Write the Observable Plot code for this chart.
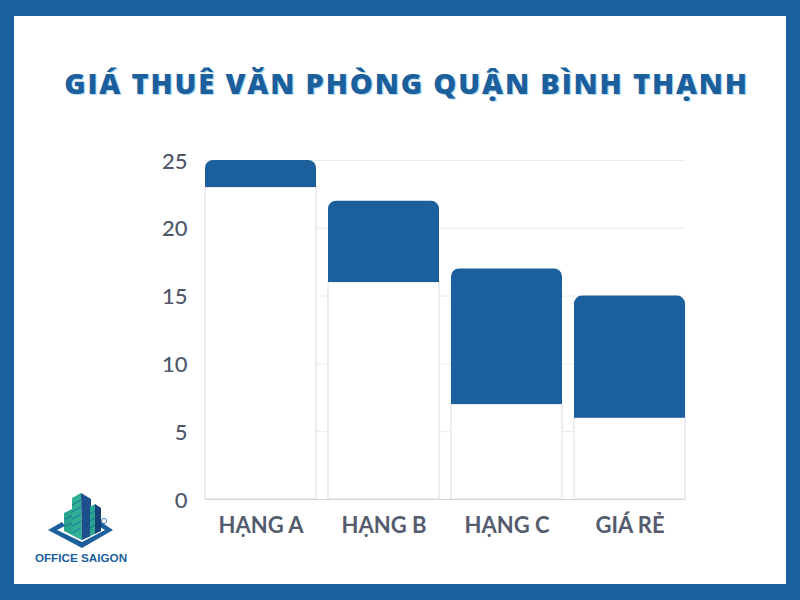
<!DOCTYPE html>
<html>
<head>
<meta charset="utf-8">
<script src="https://cdn.jsdelivr.net/npm/d3@7"></script>
<script src="https://cdn.jsdelivr.net/npm/@observablehq/plot@0.6"></script>
<style>
html,body{margin:0;padding:0;width:800px;height:600px;overflow:hidden;background:#1c5f9d}
#panel{position:absolute;left:14px;top:16px;width:772px;height:568px;background:#fff}
#title{position:absolute;left:0;top:63px;width:813px;text-align:center;font:800 29px "Open Sans",sans-serif;letter-spacing:1.82px;color:#1c5f9d;text-shadow:1.2px 1.2px 0 #b7dcef;white-space:nowrap}
#chart{position:absolute;left:0;top:0}
#chart svg{background:transparent}
#logo{position:absolute;left:0;top:470px}
</style>
</head>
<body>
<div id="panel"></div>
<div id="title">GIÁ THUÊ VĂN PHÒNG QUẬN BÌNH THẠNH</div>
<div id="chart"></div>
<svg id="logo" width="200" height="110" viewBox="0 470 200 110">
  <path d="M48 530 L62 522 L65 526 L57 530 L82 542 L105 530 L98 526 L101 522 L113 530 L82 548 Z" fill="#1c5f9d"/>
  <path d="M64 513 L72 509 L82 540 L64 531 Z" fill="#2aa58f"/>
  <path d="M72 498 L81 493 L82 540 L72 535 Z" fill="#2fb095"/>
  <path d="M81 493 L91 499 L91 536 L82 540 Z" fill="#1c4f8c"/>
  <path d="M90 507 L95 504 L95 534 L90 536 Z" fill="#2aa58f"/>
  <path d="M95 504 L101 508 L101 531 L95 534 Z" fill="#173f78"/>
  <path d="M72 505 L81 500 M72 512 L81 507 M72 519 L81 514 M72 526 L81 521 M72 533 L81 528 M64 519 L72 516 M64 526 L72 523 M90 514 L95 511 M90 521 L95 518 M90 528 L95 525" stroke="#1c5f9d" stroke-width="0.8" fill="none"/>
  <circle cx="104" cy="521" r="2.6" fill="none" stroke="#1c5f9d" stroke-width="0.8"/>
  <text x="81" y="562" text-anchor="middle" font-family="Liberation Sans" font-weight="700" font-size="11.7" fill="#1c5f9d">OFFICE SAIGON</text>
</svg>
<script>
const categories = ["HẠNG A", "HẠNG B", "HẠNG C", "GIÁ RẺ"];
const lowValues = [23, 16, 7, 6];
const highValues = [25, 22, 17, 15];
const yTicks = [0, 5, 10, 15, 20, 25];

const table = categories.map((c, i) => ({category: c, low: lowValues[i], high: highValues[i]}));

const chart = Plot.plot({
  width: 800,
  height: 600,
  marginLeft: 205,
  marginRight: 115,
  marginTop: 160,
  marginBottom: 101,
  style: {background: "transparent", overflow: "visible"},
  x: {domain: categories, paddingInner: 0.0976, paddingOuter: 0, label: null},
  y: {domain: [0, 25], ticks: yTicks, label: null},
  marks: [
    Plot.gridY(yTicks, {stroke: "#e9ecef", strokeOpacity: 1}),
    Plot.barY(table, {x: "category", y1: 0, y2: "low", fill: "#fff", stroke: "#d9dee4", strokeWidth: 1}),
    Plot.barY(table, {x: "category", y1: "low", y2: "high", fill: "#1c5f9d", rx1y1: 8, rx2y1: 8}),
    Plot.ruleY([0], {stroke: "#cfd5dc"}),
    Plot.axisY({ticks: yTicks, tickSize: 0, tickPadding: 18, label: null, fontSize: 22, fontWeight: 500, fontFamily: "Lato", fill: "#4f5669", dy: 1}),
    Plot.axisX({tickSize: 0, tickPadding: 18, label: null, fontSize: 22, fontWeight: 700, fontFamily: "Lato", fill: "#555c6e"})
  ]
});
document.getElementById("chart").appendChild(chart);
</script>
</body>
</html>
